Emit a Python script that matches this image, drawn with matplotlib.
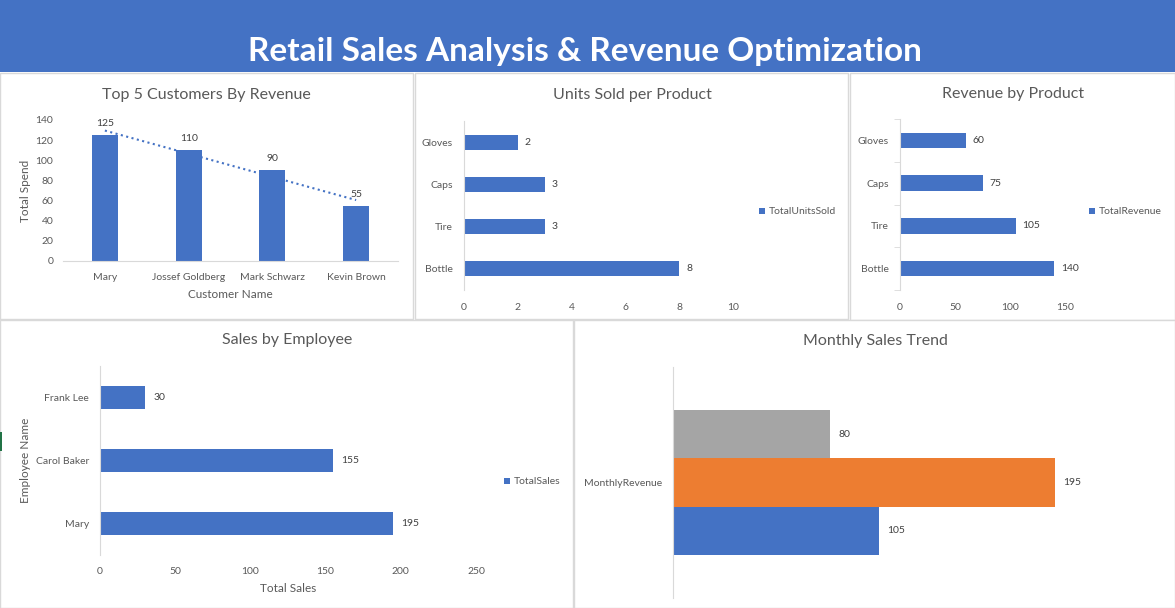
import numpy as np
import matplotlib.pyplot as plt
from matplotlib.patches import Rectangle

customers = ["Mary", "Jossef Goldberg", "Mark Schwarz", "Kevin Brown"]
customer_spend = [125, 110, 90, 55]

products = ["Bottle", "Tire", "Caps", "Gloves"]
units_sold = [8, 3, 3, 2]
product_revenue = [140, 105, 75, 60]

employees = ["Mary", "Carol Baker", "Frank Lee"]
employee_sales = [195, 155, 30]

monthly_category = ["MonthlyRevenue"]
monthly_values = [105, 195, 80]

BLUE = "#4472C4"
ORANGE = "#ED7D31"
GRAY = "#A5A5A5"
TXT = "#595959"
LBL = "#404040"
LINE = "#D9D9D9"

W, H = 1175, 608
plt.rcParams["font.family"] = ["Lato", "DejaVu Sans"]

fig = plt.figure(figsize=(W / 100, H / 100), dpi=100)


def box(x0, y0, x1, y1):
    # pixel box (top-left origin) -> figure fraction rect
    return [x0 / W, 1 - y1 / H, (x1 - x0) / W, (y1 - y0) / H]


def fy(y):
    return 1 - y / H


def clean(ax):
    ax.set_facecolor("none")
    for s in ax.spines.values():
        s.set_visible(False)
    ax.tick_params(colors=TXT, labelsize=7.5, length=0)


def add_legend(ax, handle, label, x, y):
    ax.legend([handle], [label], loc="center left",
              bbox_to_anchor=(x / W, fy(y)), bbox_transform=fig.transFigure,
              frameon=False, fontsize=7.5, labelcolor=TXT,
              handlelength=0.6, handleheight=0.6, handletextpad=0.3,
              borderpad=0, borderaxespad=0)


# Banner and panel frames
fig.patches.append(Rectangle((0, fy(72)), 1, 72 / H, transform=fig.transFigure,
                             facecolor=BLUE, edgecolor="none", zorder=-2))
for x0, y0, x1, y1 in [(0, 73, 413, 319), (415, 73, 848, 319), (850, 73, 1175, 320),
                       (0, 320, 573, 608), (574, 320, 1175, 608)]:
    fig.patches.append(Rectangle((x0 / W, fy(y1)), (x1 - x0) / W, (y1 - y0) / H,
                                 transform=fig.transFigure, facecolor="white",
                                 edgecolor=LINE, lw=1, zorder=-2))
fig.patches.append(Rectangle((0, fy(451)), 2 / W, 19 / H, transform=fig.transFigure,
                             facecolor="#217346", edgecolor="none", zorder=-1))

fig.text(585 / W, fy(51), "Retail Sales Analysis & Revenue Optimization",
         ha="center", va="center", color="white", fontsize=24, fontweight="bold")

# Top 5 customers
ax1 = fig.add_axes(box(63, 120, 398, 261))
clean(ax1)
x = np.arange(len(customers))
bars = ax1.bar(x, customer_spend, width=0.31, color=BLUE)
ax1.bar_label(bars, padding=5, fontsize=7.5, color=LBL)
trend = np.polyfit(x, customer_spend, 1)
ax1.plot(x, np.polyval(trend, x), ls=":", lw=1.5, color=BLUE)
ax1.spines["bottom"].set_visible(True)
ax1.spines["bottom"].set_color(LINE)
ax1.set_xlim(-0.5, 3.5)
ax1.set_ylim(0, 140)
ax1.set_yticks(range(0, 141, 20))
ax1.set_xticks(x, customers)
ax1.tick_params(axis="x", pad=9)
ax1.tick_params(axis="y", pad=7)
ax1.set_xlabel("Customer Name", fontsize=8.5, color=TXT, labelpad=5)
ax1.set_ylabel("Total Spend", fontsize=8.5, color=TXT, labelpad=3)
fig.text(206 / W, fy(95), "Top 5 Customers By Revenue", ha="center", va="center",
         fontsize=11.5, color=TXT)

# Units sold per product
ax2 = fig.add_axes(box(464, 121, 733, 290))
clean(ax2)
y = np.arange(len(products))
bars = ax2.barh(y, units_sold, height=0.36, color=BLUE)
ax2.bar_label(bars, padding=5, fontsize=7.5, color=LBL)
ax2.spines["left"].set_visible(True)
ax2.spines["left"].set_color(LINE)
ax2.set_xlim(0, 10)
ax2.set_ylim(-0.5, 3.5)
ax2.set_xticks(range(0, 11, 2))
ax2.set_yticks(y, products)
ax2.tick_params(axis="x", pad=9)
ax2.tick_params(axis="y", pad=8)
add_legend(ax2, bars[0], "TotalUnitsSold", 759, 212)
fig.text(632 / W, fy(95), "Units Sold per Product", ha="center", va="center",
         fontsize=11.5, color=TXT)

# Revenue by product
ax3 = fig.add_axes(box(900, 119, 1065, 290))
clean(ax3)
bars = ax3.barh(y, product_revenue, height=0.36, color=BLUE)
ax3.bar_label(bars, padding=5, fontsize=7.5, color=LBL)
ax3.spines["left"].set_visible(True)
ax3.spines["left"].set_color(LINE)
ax3.set_xlim(0, 150)
ax3.set_ylim(-0.5, 3.5)
ax3.set_xticks(range(0, 151, 50))
ax3.set_yticks(y, products)
ax3.set_yticks(np.arange(-0.5, 4, 1), minor=True)
ax3.tick_params(axis="y", which="minor", length=4, color=LINE)
ax3.tick_params(axis="x", pad=9)
ax3.tick_params(axis="y", pad=8)
add_legend(ax3, bars[0], "TotalRevenue", 1089, 212)
fig.text(1013 / W, fy(94), "Revenue by Product", ha="center", va="center",
         fontsize=11.5, color=TXT)

# Sales by employee
ax4 = fig.add_axes(box(100, 366, 476, 555))
clean(ax4)
ye = np.arange(len(employees))
bars = ax4.barh(ye, employee_sales, height=0.35, color=BLUE)
ax4.bar_label(bars, padding=6, fontsize=7.5, color=LBL)
ax4.spines["left"].set_visible(True)
ax4.spines["left"].set_color(LINE)
ax4.set_xlim(0, 250)
ax4.set_ylim(-0.5, 2.5)
ax4.set_xticks(range(0, 251, 50))
ax4.set_yticks(ye, employees)
ax4.tick_params(axis="x", pad=9)
ax4.tick_params(axis="y", pad=8)
ax4.set_xlabel("Total Sales", fontsize=8.5, color=TXT, labelpad=5)
ax4.set_ylabel("Employee Name", fontsize=8.5, color=TXT, labelpad=3)
add_legend(ax4, bars[0], "TotalSales", 504, 482)
fig.text(287 / W, fy(340), "Sales by Employee", ha="center", va="center",
         fontsize=11.5, color=TXT)

# Monthly sales trend
ax5 = fig.add_axes(box(673, 367, 1163, 598))
clean(ax5)
h = 0.208
for i, (v, c) in enumerate(zip(monthly_values, [BLUE, ORANGE, GRAY])):
    b = ax5.barh([(i - 1) * h], [v], height=h, color=c)
    ax5.bar_label(b, padding=6, fontsize=7.5, color=LBL)
ax5.spines["left"].set_visible(True)
ax5.spines["left"].set_color(LINE)
ax5.set_xlim(0, 250)
ax5.set_ylim(-0.5, 0.5)
ax5.set_xticks([])
ax5.set_yticks([0], monthly_category)
ax5.tick_params(axis="y", pad=8)
fig.text(875 / W, fy(341), "Monthly Sales Trend", ha="center", va="center",
         fontsize=11.5, color=TXT)

fig.savefig("out.png", dpi=100)
